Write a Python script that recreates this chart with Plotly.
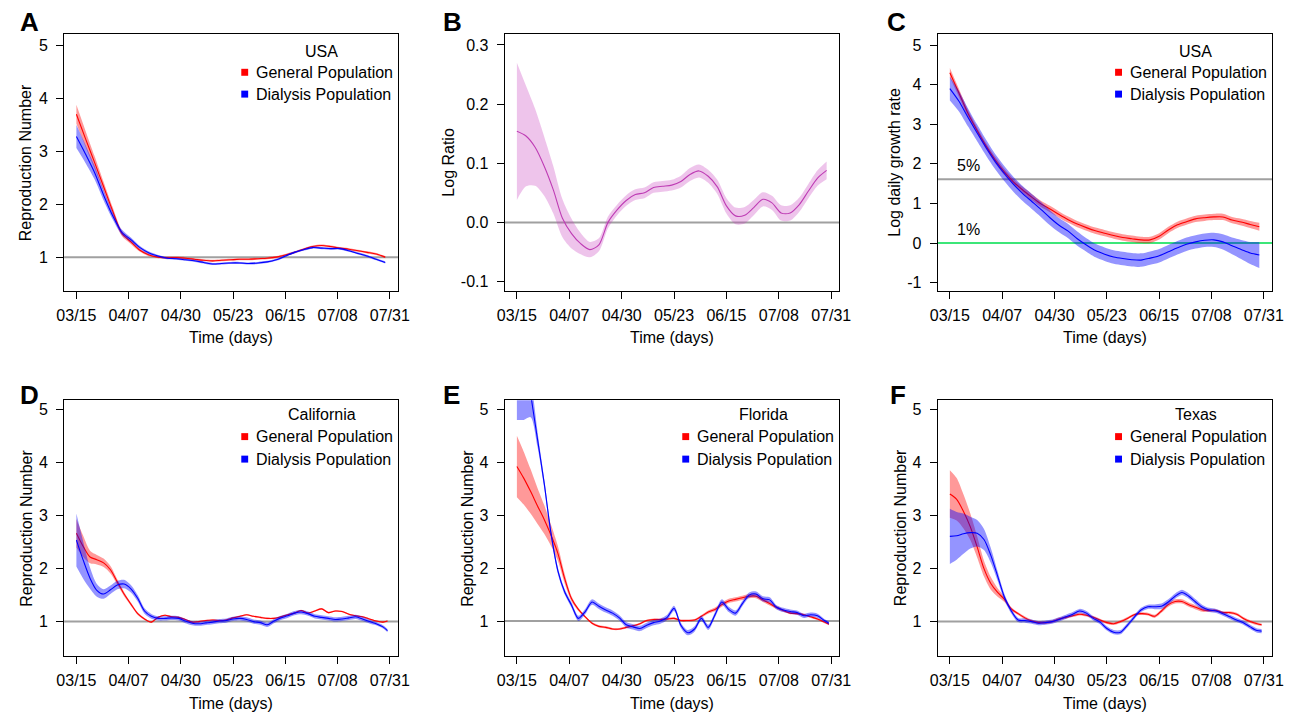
import plotly.graph_objects as go

FONT = "Liberation Sans, Arial, Helvetica, sans-serif"

# ---------------- data ----------------
tick_days = [0, 23, 46, 69, 92, 115, 138]
tick_labels = ["03/15", "04/07", "04/30", "05/23", "06/15", "07/08", "07/31"]

days_a = [0, 4, 8, 12, 16, 20, 24, 28, 32, 36, 40, 44, 48, 52, 56, 60, 64, 68, 72, 76,
          80, 84, 88, 92, 96, 100, 104, 108, 112, 116, 120, 124, 128, 132, 136]
days_b = [0, 3, 6, 9, 12, 15, 18, 21, 24, 27, 30, 33, 36, 39, 42, 45, 48, 51, 54, 57,
          60, 63, 66, 69, 72, 75, 78, 81, 84, 87, 90, 93, 96, 99, 102, 105, 108, 111,
          114, 117, 120, 123, 126, 129, 132, 135, 137]

# Panel A - USA reproduction number
a_gen = [3.70, 3.24, 2.79, 2.33, 1.87, 1.45, 1.29, 1.13, 1.04, 1.00, 0.99, 0.99, 0.98, 0.96,
         0.94, 0.93, 0.94, 0.95, 0.96, 0.96, 0.97, 0.98, 1.00, 1.04, 1.09, 1.15, 1.20, 1.22,
         1.20, 1.17, 1.15, 1.12, 1.09, 1.06, 1.00]
a_gen_ci = [0.18, 0.15, 0.12, 0.09, 0.07, 0.05, 0.04, 0.03, 0.025, 0.02, 0.02, 0.02, 0.02,
            0.02, 0.02, 0.02, 0.02, 0.02, 0.02, 0.02, 0.02, 0.02, 0.02, 0.02, 0.02, 0.02,
            0.02, 0.02, 0.02, 0.02, 0.02, 0.02, 0.02, 0.02, 0.02]
a_dia = [3.28, 2.95, 2.60, 2.17, 1.78, 1.47, 1.33, 1.18, 1.08, 1.02, 0.98, 0.97, 0.95, 0.93,
         0.90, 0.87, 0.88, 0.89, 0.89, 0.88, 0.89, 0.91, 0.95, 1.02, 1.09, 1.14, 1.18, 1.17,
         1.16, 1.16, 1.12, 1.07, 1.02, 0.96, 0.90]
a_dia_ci = [0.22, 0.17, 0.13, 0.10, 0.07, 0.05, 0.04, 0.03, 0.025, 0.02, 0.02, 0.02, 0.02,
            0.02, 0.02, 0.02, 0.02, 0.02, 0.02, 0.02, 0.02, 0.02, 0.02, 0.02, 0.02, 0.02,
            0.02, 0.02, 0.02, 0.02, 0.02, 0.02, 0.02, 0.02, 0.02]

# Panel B - log ratio
b_ratio = [0.154, 0.146, 0.127, 0.095, 0.055, 0.007, -0.019, -0.036, -0.046, -0.038, 0.000,
           0.021, 0.037, 0.047, 0.050, 0.059, 0.061, 0.063, 0.069, 0.081, 0.087, 0.078,
           0.060, 0.028, 0.011, 0.012, 0.025, 0.039, 0.033, 0.016, 0.016, 0.030, 0.053,
           0.075, 0.088]
b_ratio_ci = [0.116, 0.085, 0.065, 0.050, 0.040, 0.032, 0.025, 0.018, 0.013, 0.011, 0.010,
              0.009, 0.009, 0.009, 0.009, 0.009, 0.009, 0.009, 0.010, 0.011, 0.011, 0.011,
              0.012, 0.013, 0.014, 0.014, 0.013, 0.012, 0.012, 0.013, 0.013, 0.012, 0.012,
              0.013, 0.015]

# Panel C - log daily growth rate
c_gen = [4.30, 3.79, 3.27, 2.84, 2.44, 2.09, 1.79, 1.54, 1.34, 1.16, 0.99, 0.86, 0.72, 0.59,
         0.48, 0.39, 0.31, 0.25, 0.19, 0.14, 0.11, 0.08, 0.08, 0.17, 0.33, 0.46, 0.54, 0.61,
         0.64, 0.66, 0.66, 0.58, 0.53, 0.47, 0.41]
c_gen_ci = [0.12, 0.10, 0.09, 0.08, 0.08, 0.08, 0.08, 0.08, 0.08, 0.08, 0.08, 0.08, 0.08,
            0.08, 0.08, 0.08, 0.08, 0.08, 0.08, 0.08, 0.08, 0.08, 0.08, 0.08, 0.08, 0.08,
            0.08, 0.08, 0.08, 0.08, 0.08, 0.08, 0.085, 0.09, 0.10]
c_dia = [3.90, 3.58, 3.17, 2.78, 2.40, 2.05, 1.75, 1.48, 1.25, 1.05, 0.85, 0.64, 0.45, 0.30,
         0.11, -0.05, -0.19, -0.28, -0.35, -0.39, -0.42, -0.43, -0.38, -0.32, -0.22, -0.12,
         -0.03, 0.03, 0.07, 0.08, 0.03, -0.07, -0.16, -0.25, -0.30]
c_dia_ci = [0.30, 0.26, 0.23, 0.21, 0.20, 0.19, 0.19, 0.19, 0.19, 0.19, 0.19, 0.19, 0.18,
            0.18, 0.18, 0.17, 0.17, 0.17, 0.17, 0.17, 0.17, 0.17, 0.17, 0.17, 0.17, 0.17,
            0.17, 0.17, 0.17, 0.18, 0.19, 0.21, 0.24, 0.28, 0.33]
c_ref_pct = [5, 1]
c_ref_log = [1.609, 0.0]

# Panel D - California
d_gen = [2.67, 2.42, 2.22, 2.17, 2.11, 1.98, 1.75, 1.52, 1.33, 1.15, 1.05, 0.99, 1.08, 1.12,
         1.09, 1.08, 1.04, 0.99, 1.00, 1.02, 1.03, 1.02, 1.03, 1.07, 1.10, 1.13, 1.10, 1.08,
         1.06, 1.06, 1.09, 1.13, 1.16, 1.21, 1.16, 1.20, 1.24, 1.17, 1.20, 1.19, 1.14, 1.11,
         1.09, 1.05, 1.01, 0.99, 1.01]
d_gen_ci = [0.27, 0.20, 0.12, 0.09, 0.08, 0.07, 0.05, 0.04, 0.03, 0.025, 0.02, 0.015, 0.015,
            0.015, 0.015, 0.015, 0.015, 0.015, 0.015, 0.015, 0.015, 0.015, 0.015, 0.015,
            0.015, 0.015, 0.015, 0.015, 0.015, 0.015, 0.015, 0.015, 0.015, 0.015, 0.015,
            0.015, 0.015, 0.015, 0.015, 0.015, 0.015, 0.015, 0.015, 0.015, 0.015, 0.015,
            0.015]
d_dia = [2.54, 2.16, 1.82, 1.59, 1.52, 1.60, 1.69, 1.71, 1.62, 1.44, 1.20, 1.10, 1.06, 1.06,
         1.07, 1.06, 1.01, 0.97, 0.96, 0.975, 0.99, 1.01, 1.02, 1.05, 1.06, 1.04, 1.00, 0.98,
         0.94, 1.01, 1.07, 1.11, 1.16, 1.18, 1.15, 1.10, 1.08, 1.06, 1.04, 1.05, 1.07, 1.09,
         1.05, 1.00, 0.96, 0.90, 0.83]
d_dia_ci = [0.50, 0.35, 0.20, 0.12, 0.09, 0.08, 0.08, 0.08, 0.07, 0.06, 0.05, 0.045, 0.04,
            0.04, 0.04, 0.04, 0.04, 0.04, 0.04, 0.04, 0.04, 0.04, 0.04, 0.04, 0.04, 0.04,
            0.04, 0.04, 0.04, 0.04, 0.04, 0.04, 0.04, 0.04, 0.04, 0.04, 0.04, 0.04, 0.04,
            0.04, 0.04, 0.04, 0.04, 0.035, 0.03, 0.03, 0.03]

# Panel E - Florida
e_gen = [3.92, 3.70, 3.45, 3.18, 2.92, 2.62, 2.28, 1.80, 1.42, 1.22, 1.08, 0.96, 0.90, 0.88,
         0.85, 0.85, 0.88, 0.91, 0.95, 1.01, 1.03, 1.03, 1.04, 1.05, 1.01, 1.01, 1.02, 1.09,
         1.17, 1.22, 1.31, 1.38, 1.41, 1.44, 1.47, 1.47, 1.40, 1.33, 1.26, 1.20, 1.15, 1.14,
         1.12, 1.08, 1.04, 0.98, 0.94]
e_gen_ci = [0.58, 0.50, 0.42, 0.34, 0.27, 0.20, 0.14, 0.09, 0.05, 0.03, 0.02, 0.02, 0.02,
            0.02, 0.02, 0.02, 0.02, 0.02, 0.02, 0.02, 0.02, 0.02, 0.02, 0.02, 0.02, 0.02,
            0.02, 0.025, 0.03, 0.035, 0.04, 0.04, 0.04, 0.04, 0.04, 0.04, 0.04, 0.035, 0.03,
            0.025, 0.02, 0.02, 0.02, 0.02, 0.02, 0.02, 0.02]
e_dia = [7.00, 6.20, 5.30, 4.45, 3.60, 2.65, 1.95, 1.55, 1.30, 1.05, 1.18, 1.36, 1.28, 1.21,
         1.15, 1.06, 0.93, 0.89, 0.86, 0.92, 0.97, 1.00, 1.07, 1.24, 0.92, 0.78, 0.85, 1.05,
         0.88, 1.12, 1.36, 1.22, 1.15, 1.33, 1.49, 1.51, 1.42, 1.40, 1.26, 1.21, 1.18, 1.16,
         1.10, 1.12, 1.10, 1.01, 0.96]
e_dia_ci = [2.20, 1.40, 0.45, 0.15, 0.09, 0.07, 0.06, 0.05, 0.05, 0.05, 0.05, 0.05, 0.05,
            0.05, 0.05, 0.05, 0.05, 0.05, 0.05, 0.05, 0.05, 0.05, 0.05, 0.05, 0.05, 0.05,
            0.05, 0.05, 0.05, 0.05, 0.05, 0.05, 0.05, 0.05, 0.05, 0.05, 0.05, 0.05, 0.04,
            0.04, 0.04, 0.04, 0.04, 0.04, 0.04, 0.03, 0.03]

# Panel F - Texas
f_gen = [3.41, 3.31, 3.08, 2.79, 2.41, 2.00, 1.72, 1.55, 1.42, 1.24, 1.15, 1.07, 1.01, 0.98,
         0.98, 1.00, 1.05, 1.08, 1.11, 1.14, 1.12, 1.08, 1.03, 0.98, 0.96, 1.00, 1.06, 1.13,
         1.15, 1.14, 1.10, 1.20, 1.32, 1.38, 1.38, 1.32, 1.27, 1.22, 1.21, 1.21, 1.17, 1.17,
         1.14, 1.06, 1.00, 0.96, 0.94]
f_gen_ci = [0.45, 0.40, 0.32, 0.25, 0.20, 0.15, 0.12, 0.08, 0.05, 0.03, 0.025, 0.025, 0.025,
            0.025, 0.025, 0.025, 0.025, 0.025, 0.025, 0.025, 0.025, 0.025, 0.025, 0.025,
            0.025, 0.025, 0.025, 0.025, 0.025, 0.025, 0.03, 0.035, 0.04, 0.04, 0.04, 0.04,
            0.04, 0.035, 0.03, 0.025, 0.025, 0.025, 0.025, 0.025, 0.025, 0.025, 0.025]
f_dia = [2.61, 2.62, 2.66, 2.68, 2.67, 2.55, 2.25, 1.86, 1.46, 1.20, 1.03, 1.02, 1.00, 0.97,
         0.98, 1.00, 1.04, 1.09, 1.14, 1.20, 1.16, 1.06, 0.99, 0.87, 0.80, 0.80, 0.93, 1.08,
         1.22, 1.28, 1.28, 1.29, 1.37, 1.48, 1.55, 1.48, 1.37, 1.27, 1.22, 1.20, 1.15, 1.09,
         1.03, 0.98, 0.90, 0.83, 0.82]
f_dia_ci = [0.52, 0.45, 0.38, 0.30, 0.25, 0.20, 0.14, 0.09, 0.06, 0.045, 0.04, 0.04, 0.04,
            0.04, 0.04, 0.04, 0.04, 0.04, 0.04, 0.04, 0.04, 0.04, 0.04, 0.04, 0.04, 0.04,
            0.04, 0.04, 0.04, 0.04, 0.045, 0.05, 0.05, 0.05, 0.05, 0.05, 0.05, 0.045, 0.04,
            0.04, 0.04, 0.04, 0.04, 0.04, 0.04, 0.04, 0.04]

# ---------------- style ----------------
RED, RED_FILL = "rgb(255,0,0)", "rgba(255,0,0,0.40)"
BLUE, BLUE_FILL = "rgb(0,0,255)", "rgba(0,0,255,0.42)"
MAG, MAG_FILL = "rgb(190,60,180)", "rgba(200,60,190,0.30)"
GRAY = "rgb(160,160,160)"
GREEN = "rgb(60,230,120)"
FS = 16

W, H = 1308, 715
xdom = [[57 / W, 396 / W], [504.3 / W, 844.3 / W], [944 / W, 1283.7 / W]]
ydom = [[1 - 291 / H, 1 - 34.3 / H], [1 - 656 / H, 1 - 400.3 / H]]

fig = go.Figure()


def add_band(n, xs, mean, ci, line_col, fill_col):
    xa, ya = ("x", "y") if n == 1 else (f"x{n}", f"y{n}")
    lo = [m - c for m, c in zip(mean, ci)]
    hi = [m + c for m, c in zip(mean, ci)]
    common = dict(x=xs, mode="lines", xaxis=xa, yaxis=ya, hoverinfo="skip", showlegend=False)
    fig.add_trace(go.Scatter(y=lo, line=dict(width=0, shape="spline", smoothing=0.8), **common))
    fig.add_trace(go.Scatter(y=hi, line=dict(width=0, shape="spline", smoothing=0.8),
                             fill="tonexty", fillcolor=fill_col, **common))
    fig.add_trace(go.Scatter(y=mean, line=dict(color=line_col, width=1.1, shape="spline",
                                               smoothing=0.8), **common))


# A
add_band(1, days_a, a_gen, a_gen_ci, RED, RED_FILL)
add_band(1, days_a, a_dia, a_dia_ci, BLUE, BLUE_FILL)
# B
add_band(2, days_a, b_ratio, b_ratio_ci, MAG, MAG_FILL)
# C
add_band(3, days_a, c_gen, c_gen_ci, RED, RED_FILL)
add_band(3, days_a, c_dia, c_dia_ci, BLUE, BLUE_FILL)
# D
add_band(4, days_b, d_gen, d_gen_ci, RED, RED_FILL)
add_band(4, days_b, d_dia, d_dia_ci, BLUE, BLUE_FILL)
# E
add_band(5, days_b, e_gen, e_gen_ci, RED, RED_FILL)
add_band(5, days_b, e_dia, e_dia_ci, BLUE, BLUE_FILL)
# F
add_band(6, days_b, f_gen, f_gen_ci, RED, RED_FILL)
add_band(6, days_b, f_dia, f_dia_ci, BLUE, BLUE_FILL)

rn_ticks = [1, 2, 3, 4, 5]
panel_cfg = {
    1: dict(col=0, row=0, yr=[0.36, 5.21], yt=rn_ticks, ytt=[str(v) for v in rn_ticks]),
    2: dict(col=1, row=0, yr=[-0.116, 0.318], yt=[-0.1, 0.0, 0.1, 0.2, 0.3],
            ytt=["-0.1", "0.0", "0.1", "0.2", "0.3"]),
    3: dict(col=2, row=0, yr=[-1.21, 5.27], yt=[-1, 0, 1, 2, 3, 4, 5],
            ytt=["-1", "0", "1", "2", "3", "4", "5"]),
    4: dict(col=0, row=1, yr=[0.35, 5.18], yt=rn_ticks, ytt=[str(v) for v in rn_ticks]),
    5: dict(col=1, row=1, yr=[0.34, 5.17], yt=rn_ticks, ytt=[str(v) for v in rn_ticks]),
    6: dict(col=2, row=1, yr=[0.35, 5.18], yt=rn_ticks, ytt=[str(v) for v in rn_ticks]),
}

axis_common = dict(showline=True, linecolor="black", linewidth=1, mirror=True,
                   ticks="outside", ticklen=7, tickwidth=1, tickcolor="black",
                   showgrid=False, zeroline=False,
                   tickfont=dict(family=FONT, size=FS, color="black"))
layout = {}
for n, cfg in panel_cfg.items():
    sx = "" if n == 1 else str(n)
    layout[f"xaxis{sx}"] = dict(domain=xdom[cfg["col"]], range=[-5.4, 141.6],
                                tickvals=tick_days, ticktext=tick_labels,
                                anchor=f"y{sx}", ticklabelstandoff=3, **axis_common)
    layout[f"yaxis{sx}"] = dict(domain=ydom[cfg["row"]], range=cfg["yr"],
                                tickvals=cfg["yt"], ticktext=cfg["ytt"],
                                anchor=f"x{sx}", ticklabelstandoff=5, **axis_common)
fig.update_layout(**layout)

shapes = []
annotations = []

# reference lines
for n in [1, 2, 4, 5, 6]:
    sx = "" if n == 1 else str(n)
    yv = 0.0 if n == 2 else 1.0
    shapes.append(dict(type="line", xref=f"x{sx} domain", yref=f"y{sx}", x0=0, x1=1,
                       y0=yv, y1=yv, line=dict(color=GRAY, width=2), layer="below"))
shapes.append(dict(type="line", xref="x3 domain", yref="y3", x0=0, x1=1,
                   y0=c_ref_log[0], y1=c_ref_log[0], line=dict(color=GRAY, width=2),
                   layer="below"))
shapes.append(dict(type="line", xref="x3 domain", yref="y3", x0=0, x1=1,
                   y0=c_ref_log[1], y1=c_ref_log[1], line=dict(color=GREEN, width=2),
                   layer="below"))
for pct, yv in zip(c_ref_pct, [0.488, 0.238]):
    annotations.append(dict(text=f"{pct}%", xref="x3 domain", yref="y3 domain", x=0.052,
                            y=yv, xanchor="left", yanchor="middle", showarrow=False,
                            font=dict(family=FONT, size=FS, color="black")))

# in-panel legends
legend_titles = {1: "USA", 3: "USA", 4: "California", 5: "Florida", 6: "Texas"}
series_names = ["General Population", "Dialysis Population"]
series_cols = ["rgb(255,0,0)", "rgb(0,0,255)"]
for n, title in legend_titles.items():
    sx = "" if n == 1 else str(n)
    row = panel_cfg[n]["row"]
    ys = [0.934, 0.852, 0.767] if row == 0 else [0.943, 0.858, 0.770]
    annotations.append(dict(text=title, xref=f"x{sx} domain", yref=f"y{sx} domain",
                            x=0.772, y=ys[0], xanchor="center", yanchor="middle",
                            showarrow=False, font=dict(family=FONT, size=FS, color="black")))
    for k, (nm, col) in enumerate(zip(series_names, series_cols)):
        annotations.append(dict(text=nm, xref=f"x{sx} domain", yref=f"y{sx} domain",
                                x=0.570, y=ys[k + 1], xanchor="left", yanchor="middle",
                                showarrow=False,
                                font=dict(family=FONT, size=FS, color="black")))
        shapes.append(dict(type="rect", xref=f"x{sx} domain", yref=f"y{sx} domain",
                           x0=0.541 - 0.0103, x1=0.541 + 0.0103,
                           y0=ys[k + 1] - 0.0136, y1=ys[k + 1] + 0.0136,
                           fillcolor=col, line=dict(width=0)))

# axis titles
ytitles = {1: ("Reproduction Number", 18, 162.5), 2: ("Log Ratio", 447, 162.5),
           3: ("Log daily growth rate", 900, 162.5), 4: ("Reproduction Number", 18, 528),
           5: ("Reproduction Number", 466, 528), 6: ("Reproduction Number", 906, 528)}
for n, (txt, px, py) in ytitles.items():
    annotations.append(dict(text=txt, xref="paper", yref="paper", x=px / W, y=1 - py / H,
                            xanchor="center", yanchor="middle", textangle=-90,
                            showarrow=False, font=dict(family=FONT, size=FS, color="black")))
for cx in [226.5, 674.3, 1114]:
    for py in [338, 703.3]:
        annotations.append(dict(text="Time (days)", xref="paper", yref="paper", x=cx / W,
                                y=1 - py / H, xanchor="center", yanchor="middle",
                                showarrow=False,
                                font=dict(family=FONT, size=FS, color="black")))

# panel letters
letters = [("A", 10, 22), ("B", 440, 22), ("C", 891, 22),
           ("D", 10, 395), ("E", 440, 395), ("F", 894, 395)]
for t, px, py in letters:
    annotations.append(dict(text=f"<b>{t}</b>", xref="paper", yref="paper", x=px / W,
                            y=1 - py / H, xanchor="left", yanchor="middle", showarrow=False,
                            font=dict(family=FONT, size=26, color="black")))

fig.update_layout(width=W, height=H, margin=dict(l=0, r=0, t=0, b=0),
                  paper_bgcolor="white", plot_bgcolor="white", showlegend=False,
                  shapes=shapes, annotations=annotations,
                  font=dict(family=FONT, size=FS, color="black"))

fig.write_html("out.html", config={"displayModeBar": False},
               post_script="document.body.style.margin='0';")
